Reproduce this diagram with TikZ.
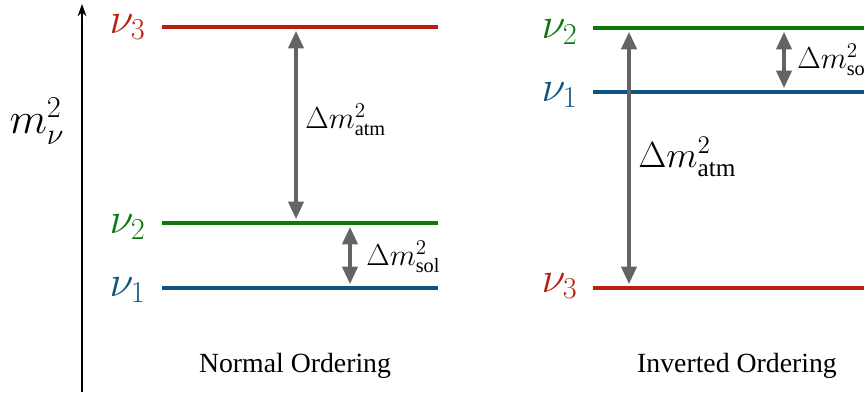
\documentclass[tikz,border=0pt]{standalone}
\usepackage{fontspec}
\setmainfont{Liberation Serif}
\usetikzlibrary{arrows.meta}

\definecolor{nured}{RGB}{185,30,15}
\definecolor{nugreen}{RGB}{10,120,10}
\definecolor{nublue}{RGB}{15,85,130}
\definecolor{gapgray}{RGB}{100,100,100}

\begin{document}
\begin{tikzpicture}[x=0.02cm, y=-0.02cm,
      level/.style={line width=2.3pt},
      gap/.style={{Triangle[width=8.5pt,length=10pt]}-{Triangle[width=8.5pt,length=10pt]},
                  line width=2.3pt, draw=gapgray, shorten <=1pt, shorten >=1pt},
      state/.style={font=\fontsize{26}{30}\selectfont, inner sep=0pt, anchor=east},
      split/.style={inner sep=0pt, anchor=west},
      caption/.style={font=\fontsize{15.8}{18}\selectfont}]
    \useasboundingbox (0,0) rectangle (864,394);
    \clip (0,0) rectangle (864,394);

    % mass axis
    \coordinate (axbot) at (82,392);
    \coordinate (axtop) at (82,4);
    \draw[line width=0.7pt, -{Stealth[length=7pt,width=5pt]}] (axbot) -- (axtop);
    \node[font=\fontsize{24}{28}\selectfont] (mlab) at (37,121) {$m_\nu^2$};

    % normal ordering
    \coordinate (n3l) at (162,27);  \coordinate (n3r) at (438,27);
    \coordinate (n2l) at (162,223); \coordinate (n2r) at (438,223);
    \coordinate (n1l) at (162,288); \coordinate (n1r) at (438,288);
    \draw[level, nured] (n3l) -- (n3r);
    \draw[level, nugreen] (n2l) -- (n2r);
    \draw[level, nublue] (n1l) -- (n1r);
    \node[state, text=nured] (nn3) at (146,27) {$\nu_3$};
    \node[state, text=nugreen] (nn2) at (146,227) {$\nu_2$};
    \node[state, text=nublue] (nn1) at (146,290) {$\nu_1$};

    \coordinate (natmt) at (296,29);  \coordinate (natmb) at (296,221);
    \coordinate (nsolt) at (350,225); \coordinate (nsolb) at (350,286);
    \draw[gap] (natmt) -- (natmb);
    \draw[gap] (nsolt) -- (nsolb);
    \node[split, font=\fontsize{16.5}{19}\selectfont] (natm) at (305,120) {$\Delta m^2_{\mathrm{atm}}$};
    \node[split, font=\fontsize{16.5}{19}\selectfont] (nsol) at (366,257) {$\Delta m^2_{\mathrm{sol}}$};
    \node[caption] (ncap) at (295,366) {Normal Ordering};

    % inverted ordering
    \coordinate (i2l) at (593,28);  \coordinate (i2r) at (870,28);
    \coordinate (i1l) at (593,92);  \coordinate (i1r) at (870,92);
    \coordinate (i3l) at (593,288); \coordinate (i3r) at (870,288);
    \draw[level, nugreen] (i2l) -- (i2r);
    \draw[level, nublue] (i1l) -- (i1r);
    \draw[level, nured] (i3l) -- (i3r);
    \node[state, text=nugreen] (in2) at (578,32) {$\nu_2$};
    \node[state, text=nublue] (in1) at (578,95) {$\nu_1$};
    \node[state, text=nured] (in3) at (578,286) {$\nu_3$};

    \coordinate (iatmt) at (629,30); \coordinate (iatmb) at (629,286);
    \coordinate (isolt) at (784,30); \coordinate (isolb) at (784,90);
    \draw[gap] (iatmt) -- (iatmb);
    \draw[gap] (isolt) -- (isolb);
    \node[split, font=\fontsize{20.5}{24}\selectfont] (iatm) at (638,157) {$\Delta m^2_{\mathrm{atm}}$};
    \node[split, font=\fontsize{16.5}{19}\selectfont] (isol) at (797,60) {$\Delta m^2_{\mathrm{sol}}$};
    \node[caption] (icap) at (737,366) {Inverted Ordering};
  \end{tikzpicture}
\end{document}
